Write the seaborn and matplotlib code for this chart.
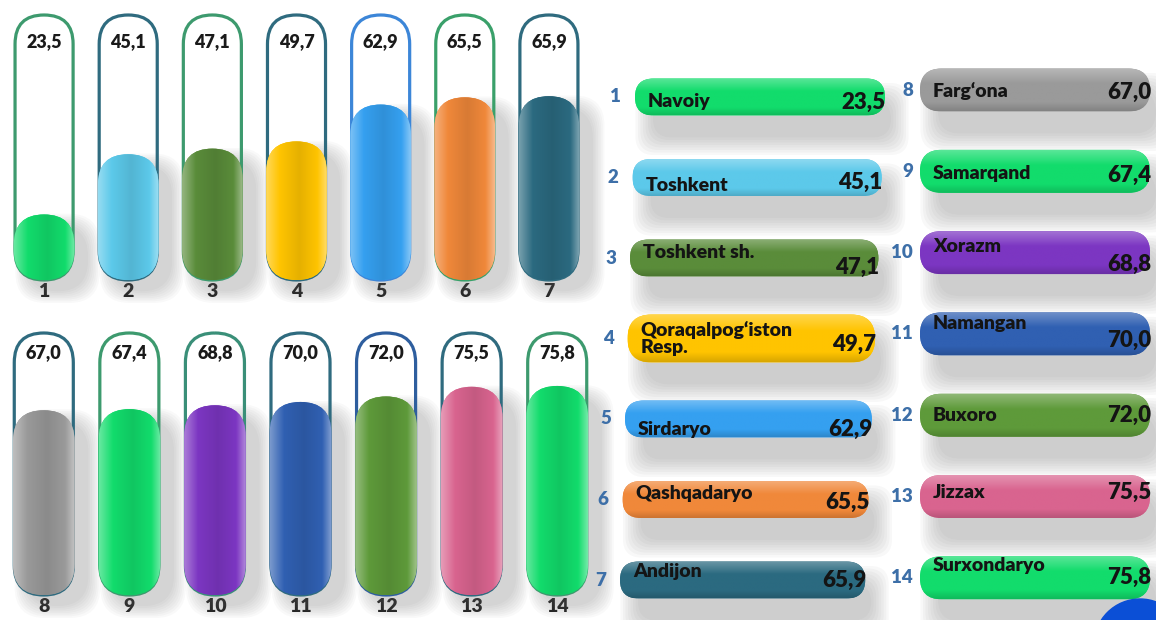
import numpy as np
import pandas as pd
import matplotlib
matplotlib.use("Agg")
import matplotlib.pyplot as plt
import seaborn as sns
from matplotlib.patches import FancyBboxPatch, Circle
from matplotlib.colors import LinearSegmentedColormap, to_rgb

sns.set_theme(style="white")
plt.rcParams['font.family'] = ['Lato', 'DejaVu Sans']

## data
ranks = [str(i) for i in range(1, 15)]
regions = ["Navoiy", "Toshkent", "Toshkent sh.", "Qoraqalpog\u2018iston\nResp.", "Sirdaryo",
           "Qashqadaryo", "Andijon", "Farg\u2018ona", "Samarqand", "Xorazm", "Namangan",
           "Buxoro", "Jizzax", "Surxondaryo"]
values = [23.5, 45.1, 47.1, 49.7, 62.9, 65.5, 65.9, 67.0, 67.4, 68.8, 70.0, 72.0, 75.5, 75.8]
fill_colors = ["#12dc6c", "#5cc9ea", "#5a8c3a", "#ffc400", "#35a0f0", "#f0883a", "#2b6a80",
               "#9a9a9a", "#12dc6c", "#7c36c2", "#3060b2", "#5e9a3a", "#d9648f", "#12dc6c"]
tube_colors = ["#3d9a6e", "#2f6b7f", "#3d9a6e", "#2f6b7f", "#3c86d8", "#3aa06a", "#2f6b7f",
               "#2f6b7f", "#3d9a6e", "#3a8f78", "#2f6b7f", "#2e5e9e", "#2f6b7f", "#3d9a6e"]
scale_max = 95

# small vertical nudges of the texts inside the pills (pixels, as in the original)
name_dy = [5, 8, -5, 0, 10, -6, -8, 1, 2, -6, -10, 0, -4, -12]
value_dy = [5, 5, 9, 6, 10, 3, 0, 2, 4, 12, 7, 0, -4, 0]

df = pd.DataFrame({"rank": ranks, "region": regions, "value": values,
                   "fill": fill_colors, "tube": tube_colors})

W, H = 1156, 620
fig = plt.figure(figsize=(W / 100, H / 100), dpi=100)
fig.patch.set_facecolor("white")


def px_axes(left, top, right, bottom):
    return fig.add_axes([left / W, 1 - bottom / H, (right - left) / W, (bottom - top) / H])


def shade(c, f):
    c = np.array(to_rgb(c))
    if f >= 0:
        return tuple(c + (1 - c) * f)
    return tuple(c * (1 + f))


def fmt(v):
    return f"{v:.1f}".replace(".", ",")


## capsules (two rows of seven)
rows = [(df.iloc[:7].reset_index(drop=True), (2, 15, 591, 280), 85.5),
        (df.iloc[7:].reset_index(drop=True), (1, 333, 600, 595), 88.0)]

for sub, box, label_y in rows:
    ax = px_axes(*box)
    sns.barplot(data=sub, x="rank", y="value", hue="rank", palette=list(sub["fill"]),
                width=0.72, saturation=1, errorbar=None, legend=False, ax=ax)
    ax.set_xlim(-0.5, len(sub) - 0.5)
    ax.set_ylim(0, scale_max)
    bb = ax.get_window_extent()
    asp = (bb.width / len(sub)) / (bb.height / scale_max)

    for p in list(ax.patches):
        x0, w, h = p.get_x(), p.get_width(), p.get_height()
        i = int(round(x0 + w / 2))
        p.remove()
        col = sub.loc[i, "fill"]
        # soft shadow to the right and below
        for k in range(8):
            ax.add_patch(FancyBboxPatch((x0 + 0.16, -4), w, h,
                                        boxstyle=f"round,pad={0.02 * k},rounding_size={w / 2}",
                                        mutation_aspect=asp, fc="#7a7a7a", ec="none",
                                        alpha=0.045, zorder=1, clip_on=False))
        # tube outline
        tw = 0.69
        ax.add_patch(FancyBboxPatch((i - tw / 2, 0), tw, scale_max,
                                    boxstyle=f"round,pad=0,rounding_size={tw / 2}",
                                    mutation_aspect=asp, fc="none", ec=sub.loc[i, "tube"],
                                    lw=2.3, zorder=2, clip_on=False))
        # filled capsule with a sideways gradient
        cap = FancyBboxPatch((x0, 0), w, h, boxstyle=f"round,pad=0,rounding_size={w / 2}",
                             mutation_aspect=asp, fc=col, ec="none", zorder=3, clip_on=False)
        ax.add_patch(cap)
        cmap = LinearSegmentedColormap.from_list(
            "g", [(0, shade(col, 0.35)), (0.22, col), (0.55, shade(col, -0.1)),
                  (0.85, col), (1, shade(col, 0.4))])
        im = ax.imshow(np.linspace(0, 1, 64)[None, :], extent=(x0, x0 + w, 0, h),
                       aspect="auto", cmap=cmap, zorder=3.5, interpolation="bilinear")
        im.set_clip_path(cap)
        ax.text(i, label_y, fmt(sub.loc[i, "value"]), ha="center", va="center",
                fontsize=13, fontweight="heavy", color="#1a1a1a", zorder=5)

    ax.set_xlim(-0.5, len(sub) - 0.5)
    ax.set_ylim(0, scale_max)
    ax.set_xticks(range(len(sub)))
    ax.set_xticklabels(sub["rank"], fontweight="heavy", fontsize=14, color="#1a1a1a")
    ax.tick_params(axis="x", length=0, pad=2)
    ax.set_yticks([])
    ax.set_xlabel("")
    ax.set_ylabel("")
    ax.patch.set_alpha(0)
    for s in ax.spines.values():
        s.set_visible(False)

## legend pills on the right
axl = px_axes(600, 0, 1156, 620)
axl.set_xlim(0, 556)
axl.set_ylim(620, 0)
axl.axis("off")
axl.patch.set_alpha(0)

for j, r in df.iterrows():
    if j < 7:
        k = j
        yc = 97 + k * 80.5
        x0, x1 = 35 - 2.5 * k, 285 - 3.3 * k
        num_x = x0 - 14
        h = 48 if "\n" in r["region"] else 37
    else:
        k = j - 7
        yc = 90 + k * 81.3
        x0, x1 = 320, 550
        num_x = x0 - 7
        h = 43
    col = r["fill"]
    for s in range(8):
        axl.add_patch(FancyBboxPatch((x0 + 18, yc - h / 2 + 22), x1 - x0 - 12, h,
                                     boxstyle=f"round,pad={2.5 * s},rounding_size={h / 2}",
                                     fc="#7a7a7a", ec="none", alpha=0.05, zorder=1))
    pill = FancyBboxPatch((x0, yc - h / 2), x1 - x0, h,
                          boxstyle=f"round,pad=0,rounding_size={h / 2}",
                          fc=col, ec="none", zorder=2)
    axl.add_patch(pill)
    cmap = LinearSegmentedColormap.from_list(
        "v", [(0, shade(col, 0.3)), (0.35, col), (0.8, col), (1, shade(col, -0.15))])
    im = axl.imshow(np.linspace(0, 1, 64)[:, None], extent=(x0, x1, yc + h / 2, yc - h / 2),
                    origin="upper", aspect="auto", cmap=cmap, zorder=2.5,
                    interpolation="bilinear")
    im.set_clip_path(pill)
    axl.text(x0 + 13, yc + name_dy[j], r["region"], ha="left", va="center", fontsize=14,
             fontweight="heavy", color="#141414", zorder=4, linespacing=1.0)
    axl.text(x1 + 1, yc + value_dy[j], fmt(r["value"]), ha="right", va="center",
             fontsize=16, fontweight="heavy", color="#141414", zorder=4)
    axl.text(num_x, yc, r["rank"], ha="right", va="center", fontsize=13.5,
             fontweight="heavy", color="#3d6fa8", zorder=4)

axl.add_patch(Circle((540, 645), 46, color="#0b4fd6", zorder=3))
axl.set_xlim(0, 556)
axl.set_ylim(620, 0)

fig.savefig("out.png", dpi=100, facecolor="white")
